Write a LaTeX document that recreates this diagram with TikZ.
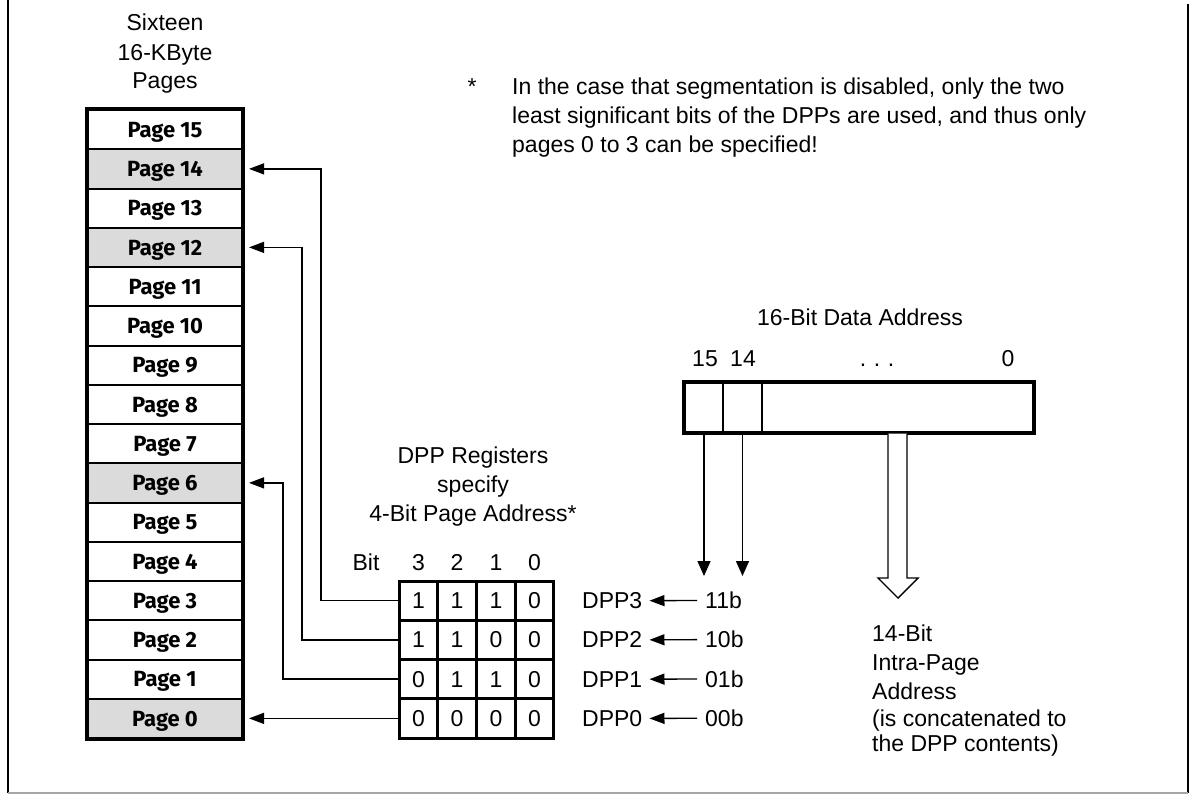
\documentclass[tikz,border=0pt]{standalone}
\usepackage{fontspec}
\setmainfont{Liberation Sans}
\newfontfamily\pagefont{Fira Sans}
\usetikzlibrary{arrows.meta}
\begin{document}
\begin{tikzpicture}[x=1pt,y=-1pt,
  every node/.style={font=\fontsize{23}{28}\selectfont, inner sep=0pt},
  lbl/.style={anchor=base},
  lblw/.style={anchor=base west},
  pagebox/.style={draw=black, line width=2pt, minimum width=154pt, minimum height=39.25pt,
     text height=15.5pt, text depth=0pt, fill=white,
     font=\fontsize{22}{26}\selectfont\pagefont\bfseries},
  selpage/.style={pagebox, fill=gray!28},
  cell/.style={draw=black, line width=3pt, minimum width=38.75pt, minimum height=39.25pt,
     text height=16pt, text depth=0pt},
  abox/.style={draw=black, line width=2.5pt, minimum height=49pt},
  conn/.style={line width=1.4pt, -{Triangle[length=15pt,width=11pt]}},
  darr/.style={line width=1.4pt, -{Triangle[length=15pt,width=13pt]}},
]
\useasboundingbox (0,0) rectangle (1192,798);
% frame
\draw[line width=1.6pt] (8,0) -- (8,793);
\draw[line width=1.6pt] (1188,4) -- (1188,793);
\draw[line width=1.6pt, gray!70] (8,793) -- (1188,793);

% page column title
\node[lbl] (t1) at (165,30) {Sixteen};
\node[lbl] (t2) at (165,60) {16-KByte};
\node[lbl] (t3) at (165,88) {Pages};

% pages
\foreach \i in {15,13,11,10,9,8,7,5,4,3,2,1} {
  \pgfmathsetmacro\yc{110+(15-\i)*39.25+19.625}
  \node[pagebox] (p\i) at (165,\yc) {Page \i};
}
\foreach \i in {14,12,6,0} {
  \pgfmathsetmacro\yc{110+(15-\i)*39.25+19.625}
  \node[selpage] (p\i) at (165,\yc) {Page \i};
}
\draw[line width=3.5pt] (p15.north west) rectangle (p0.south east);

% footnote
\node[lbl] (star) at (472,94) {*};
\node[lblw] (f1) at (512,94) {In the case that segmentation is disabled, only the two};
\node[lblw] (f2) at (512,123) {least significant bits of the DPPs are used, and thus only};
\node[lblw] (f3) at (512,152) {pages 0 to 3 can be specified!};

% DPP register title
\node[lbl] (r1) at (473,463) {DPP Registers};
\node[lbl] (r2) at (473,492) {specify};
\node[lbl] (r3) at (473,521) {4-Bit Page Address*};

% bit header
\node[lbl] (bit) at (366,570) {Bit};
\node[lbl] (h3) at (418.4,570) {3};
\node[lbl] (h2) at (457.1,570) {2};
\node[lbl] (h1) at (495.9,570) {1};
\node[lbl] (h0) at (534.6,570) {0};

% register cells
\foreach \r/\a/\b/\c/\d/\v in {3/1/1/1/0/11b, 2/1/1/0/0/10b, 1/0/1/1/0/01b, 0/0/0/0/0/00b} {
  \pgfmathsetmacro\yc{110+(15-\r)*39.25+19.625}
  \node[cell] (d\r b3) at (418.4,\yc) {\a};
  \node[cell] (d\r b2) at (457.1,\yc) {\b};
  \node[cell] (d\r b1) at (495.9,\yc) {\c};
  \node[cell] (d\r b0) at (534.6,\yc) {\d};
  \pgfmathsetmacro\yb{\yc+8}
  \node[lblw] (l\r) at (582,\yb) {DPP\r};
  \node[lblw] (n\r) at (705,\yb) {\v};
  \draw[conn, shorten >=7pt, shorten <=8pt] (n\r.west) -- (l\r.east);
}

% connectors to pages
\coordinate (v3) at (321,0);
\coordinate (v2) at (302,0);
\coordinate (v1) at (283,0);
\draw[conn, shorten >=6pt] (d3b3.west) -| (v3 |- p14.east) -- (p14.east);
\draw[conn, shorten >=6pt] (d2b3.west) -| (v2 |- p12.east) -- (p12.east);
\draw[conn, shorten >=6pt] (d1b3.west) -| (v1 |- p6.east) -- (p6.east);
\draw[conn, shorten >=6pt] (d0b3.west) -- (p0.east);

% 16-bit address
\node[lbl] (atitle) at (860,325) {16-Bit Data Address};
\node[lbl] (a15) at (705,366) {15};
\node[lbl] (a14) at (743,366) {14};
\node[lbl] (adots) at (877,366) {.\,\,.\,\,.};
\node[lbl] (a0) at (1008,366) {0};
\node[abox, minimum width=38pt] (b15) at (704,407.5) {};
\node[abox, minimum width=39pt] (b14) at (742.5,407.5) {};
\node[abox, minimum width=271pt] (brest) at (897.5,407.5) {};
\draw[line width=3pt] (b15.north west) rectangle (brest.south east);

\coordinate (lvl) at (0,576);
\draw[darr] (b15.south) -- (b15.south |- lvl);
\draw[darr] (b14.south) -- (b14.south |- lvl);

% hollow arrow
\draw[line width=1.4pt, fill=white, line join=miter] (888,433.5) -- (888,578) -- (878,578) -- (898,598) -- (918,578) -- (907,578) -- (907,433.5);

% intra-page text
\node[lblw] (i1) at (872,641) {14-Bit};
\node[lblw] (i2) at (872,670) {Intra-Page};
\node[lblw] (i3) at (872,699) {Address};
\node[lblw] (i4) at (872,726) {(is concatenated to};
\node[lblw] (i5) at (872,751) {the DPP contents)};
\end{tikzpicture}
\end{document}
